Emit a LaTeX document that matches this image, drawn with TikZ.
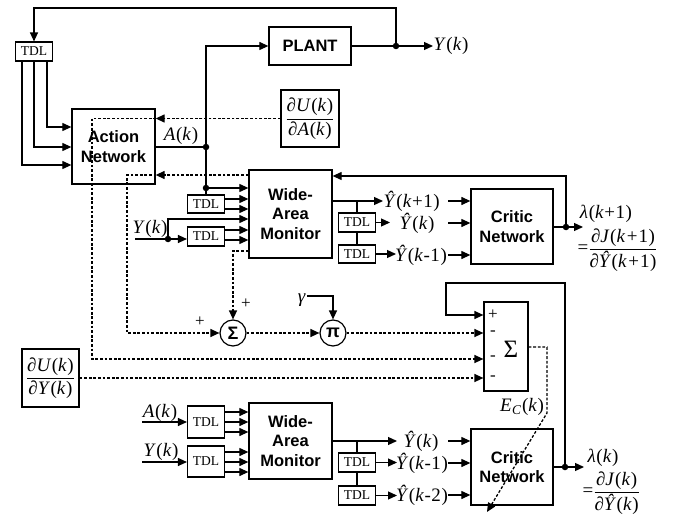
\documentclass[tikz,border=0pt]{standalone}
\usepackage{fontspec}
\setmainfont{Liberation Serif}
\setsansfont{Liberation Sans}
\newfontfamily\lfont[LetterSpace=3]{Liberation Serif}
\usetikzlibrary{arrows.meta,calc}
\newcommand{\fs}[1]{\fontsize{#1}{19.5}\selectfont}
\newcommand{\vi}[1]{\textit{#1}}
\newcommand{\Yh}{\vi{Ŷ}}
\newcommand{\pl}{\kern1pt+\kern1pt}
\begin{document}
\begin{tikzpicture}[x=1pt,y=-1pt,
  line width=1.2pt,
  blk/.style={draw, line width=1.3pt, inner sep=0pt, align=center, font=\sffamily\bfseries\fs{16.5}},
  tdl/.style={draw, line width=1.1pt, inner sep=0pt, minimum width=37pt, font=\fs{13.5}},
  lab/.style={inner sep=0pt, font=\lfont\fs{19}},
  fr/.style={draw, line width=1.1pt, inner sep=0pt, font=\lfont\fs{19}},
  sm/.style={inner sep=0pt, font=\fs{17}},
  arr/.style={-{Triangle[length=9pt,width=8pt]}},
  dot/.style={line width=1.3pt, dash pattern=on 2.8pt off 1.8pt},
  jn/.style={circle, fill, inner sep=0pt, minimum size=6.5pt},
  sumc/.style={draw, circle, line width=1.2pt, minimum size=26pt, inner sep=0pt, font=\sffamily\bfseries\fs{18}}
]
\useasboundingbox (0,0) rectangle (683,516);

% ---------- blocks ----------
\node[tdl, minimum height=19pt] (tdl0) at (34,51.5) {TDL};
\node[blk, minimum width=83pt, minimum height=75pt] (act) at (113.5,146.5) {Action\\Network};
\node[blk, minimum width=82pt, minimum height=38pt] (plant) at (310,46) {PLANT};
\node[fr, minimum width=58pt, minimum height=57pt] (dUdA) at (310,118.5)
  {$\displaystyle\frac{\mbox{∂\vi{U}(\vi{k})}}{\mbox{∂\vi{A}(\vi{k})}}$};
\node[blk, minimum width=83pt, minimum height=88pt] (wam1) at (290.5,214) {Wide-\\Area\\Monitor};
\node[tdl, minimum height=18pt] (tdlA) at (206,204) {TDL};
\node[tdl, minimum height=19pt] (tdlB) at (206,236.5) {TDL};
\node[tdl, minimum height=19pt] (tdlC) at (357,222.5) {TDL};
\node[tdl, minimum height=18pt] (tdlD) at (357,254) {TDL};
\node[blk, minimum width=82pt, minimum height=75pt] (crit1) at (512,226.5) {Critic\\Network};
\node[draw, line width=1.2pt, minimum width=44pt, minimum height=89pt, inner sep=0pt] (sigbox) at (506,346.5) {};
\node[inner sep=0pt, font=\fs{25}] (sigsym) at (511,349) {Σ};
\node[sumc] (sigc) at (233,333) {Σ};
\node[sumc] (pic) at (333,333) {π};
\node[fr, minimum width=57pt, minimum height=58pt] (dUdY) at (50.5,378)
  {$\displaystyle\frac{\mbox{∂\vi{U}(\vi{k})}}{\mbox{∂\vi{Y}(\vi{k})}}$};
\node[tdl, minimum height=32pt] (tdlE) at (206,422) {TDL};
\node[tdl, minimum height=31pt] (tdlF) at (206,461.5) {TDL};
\node[blk, minimum width=83pt, minimum height=76pt] (wam2) at (290.5,441) {Wide-\\Area\\Monitor};
\node[tdl, minimum height=19pt] (tdlG) at (357,462.5) {TDL};
\node[tdl, minimum height=19pt] (tdlH) at (357,495.5) {TDL};
\node[blk, minimum width=82pt, minimum height=76pt] (crit2) at (512,467) {Critic\\Network};

% ---------- labels ----------
\node[lab, anchor=west] (Yk1) at (433,46) {\vi{Y}(\vi{k})};
\node[lab] (Ak1) at (181,136) {\vi{A}(\vi{k})};
\node[lab] (Yk2) at (150,229) {\vi{Y}(\vi{k})};
\node[lab, anchor=west] (Yh1) at (383,201) {\Yh(\vi{k}+1)};
\node[lab] (Yh2) at (417,223) {\Yh(\vi{k})};
\node[lab] (Yh3) at (421,255) {\Yh(\vi{k}-1)};
\node[lab] (lam1) at (606,214) {\vi{λ}(\vi{k}+1)};
\node[lab, anchor=west] (eq1) at (577,250)
  {=$\displaystyle\frac{\mbox{∂\vi{J}(\vi{k}\pl1)}}{\mbox{∂\Yh(\vi{k}\pl1)}}$};
\node[lab] (gam) at (302,300) {\vi{γ}};
\node[sm] (pl1) at (200,322) {+};
\node[sm] (pl2) at (246,304) {+};
\node[sm] (sg1) at (493,315) {+};
\node[sm] (sg2) at (493,333) {-};
\node[sm] (sg3) at (493,358) {-};
\node[sm] (sg4) at (493,378) {-};
\node[lab] (Ec) at (522,407) {\vi{E}\textsubscript{\vi{C}}(\vi{k})};
\node[lab] (Ak2) at (160,413) {\vi{A}(\vi{k})};
\node[lab] (Yk3) at (161,452) {\vi{Y}(\vi{k})};
\node[lab] (Yh4) at (421,441) {\Yh(\vi{k})};
\node[lab] (Yh5) at (422,463) {\Yh(\vi{k}-1)};
\node[lab] (Yh6) at (422,495) {\Yh(\vi{k}-2)};
\node[lab] (lam2) at (603,458) {\vi{λ}(\vi{k})};
\node[lab, anchor=west] (eq2) at (582,493)
  {=$\displaystyle\frac{\mbox{∂\vi{J}(\vi{k})}}{\mbox{∂\Yh(\vi{k})}}$};

% ---------- junctions & coordinates ----------
\node[jn] (j1) at (396,46) {};
\node[jn] (j2) at (206,147) {};
\node[jn] (j3) at (206,188) {};
\node[jn] (j4) at (168,239) {};
\node[jn] (j5) at (566,227) {};
\node[jn] (j6) at (565,467) {};
\coordinate (c1) at (396,8);
\coordinate (c2) at (34,8);
\coordinate (c3) at (206,46);
\coordinate (yin) at (135,239);
\coordinate (d1) at (92,118.5);
\coordinate (d2) at (92,359);
\coordinate (d3) at (127,175);
\coordinate (d4) at (127,333);
\coordinate (d5) at (233,251);
\coordinate (g1) at (333,296);
\coordinate (f1) at (565,283);
\coordinate (f2) at (446,283);
\coordinate (f3) at (446,315);
\coordinate (f4) at (566,176);
\coordinate (e1) at (547,347);
\coordinate (e2) at (547,413);
\coordinate (e3) at (487,512);
\coordinate (o1) at (357,201);
\coordinate (o2) at (357,441);
\coordinate (ain) at (142,422);
\coordinate (yin2) at (142,462);

% ---------- solid connectors ----------
\draw (plant.east) -- (j1.center);
\draw[arr] (j1.center) -- (c1) -- (c2) -- (tdl0.north);
\draw[arr] (j1.center) -- (Yk1.west);
\draw[arr] (tdl0.south -| 22,0) |- (act.west |- 0,165);
\draw[arr] (tdl0.south) |- (act.west |- 0,147);
\draw[arr] (tdl0.south -| 47,0) |- (act.west |- 0,127);
\draw (act.east |- j2) -- (j2.center);
\draw[arr] (j3.center) -- (c3) -- (plant.west);
\draw[arr] (j3.center) -- (wam1.west |- j3);
\draw (j3.center) -- (tdlA.north);
\draw[arr] (tdlA.east |- 0,199) -- (wam1.west |- 0,199);
\draw[arr] (tdlA.east |- 0,209) -- (wam1.west |- 0,209);
\draw[arr] (yin) -- (tdlB.west |- yin);
\draw[arr] (j4.center) |- (wam1.west |- 0,219);
\draw[arr] (tdlB.east |- 0,230) -- (wam1.west |- 0,230);
\draw[arr] (tdlB.east |- 0,240) -- (wam1.west |- 0,240);

\draw[arr] (wam1.east |- o1) -- (Yh1.west);
\draw (o1) -- (tdlC.north);
\draw (tdlC.south) -- (tdlD.north);
\draw[arr] (tdlC.east) -- (390,222.5);
\draw[arr] (tdlD.east) -- (396,254);
\draw[arr] (448,201) -- (crit1.west |- 0,201);
\draw[arr] (448,223) -- (crit1.west |- 0,223);
\draw[arr] (448,255) -- (crit1.west |- 0,255);
\draw (crit1.east |- j5) -- (j5.center);
\draw[arr] (j5.center) -- (583,227);
\draw[arr] (j5.center) -- (f4) -- (wam1.east |- f4);

\draw[arr] (gam.east |- g1) -- (g1) -- (pic.north);
\draw[arr] (j6.center) -- (f1) -- (f2) -- (f3) -- (sigbox.west |- f3);

\draw[arr] (ain) -- (tdlE.west |- ain);
\draw[arr] (yin2) -- (tdlF.west |- yin2);
\foreach \yy in {412,422,432} \draw[arr] (tdlE.east |- 0,\yy) -- (wam2.west |- 0,\yy);
\foreach \yy in {452,462,472} \draw[arr] (tdlF.east |- 0,\yy) -- (wam2.west |- 0,\yy);
\draw[arr] (wam2.east) -- (397,441);
\draw (o2) -- (tdlG.north);
\draw (tdlG.south) -- (tdlH.north);
\draw[arr] (tdlG.east) -- (397,462.5);
\draw[arr] (tdlH.east) -- (397,495.5);
\foreach \yy in {441,463,495} \draw[arr] (448,\yy) -- (crit2.west |- 0,\yy);
\draw (crit2.east |- j6) -- (j6.center);
\draw[arr] (j6.center) -- (584,467);

% ---------- dotted connectors ----------
\draw[dot,arr] (dUdA.west) -- (d1) -- (d2) -- (sigbox.west |- d2);
\draw[dot,arr] (dUdA.west) -- (act.east |- dUdA.west);
\draw[dot,arr] (wam1.west |- d3) -- (d3) -- (d4) -- (sigc.west);
\draw[dot,arr] (wam1.west |- d3) -- (act.east |- d3);
\draw[dot,arr] (wam1.west |- d5) -- (d5) -- (sigc.north);
\draw[dot,arr] (sigc.east) -- (pic.west);
\draw[dot,arr] (pic.east) -- (sigbox.west |- pic.east);
\draw[dot,arr] (dUdY.east) -- (sigbox.west |- dUdY.east);
\draw[dot,arr] (sigbox.east |- e1) -- (e1) -- (e2) -- (e3);
\end{tikzpicture}
\end{document}
